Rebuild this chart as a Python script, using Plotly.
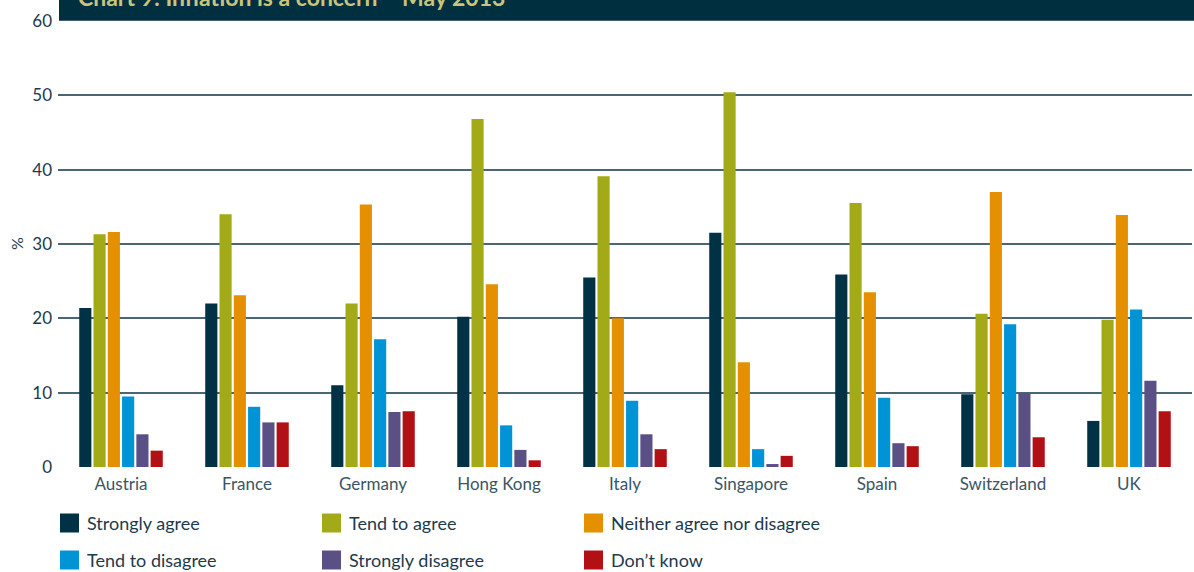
import plotly.graph_objects as go

countries = ["Austria", "France", "Germany", "Hong Kong", "Italy",
             "Singapore", "Spain", "Switzerland", "UK"]

strongly_agree = [21.4, 22.0, 11.0, 20.2, 25.5, 31.5, 25.9, 9.8, 6.2]
tend_to_agree = [31.3, 34.0, 22.0, 46.8, 39.1, 50.4, 35.5, 20.6, 19.8]
neither = [31.6, 23.1, 35.3, 24.6, 20.0, 14.1, 23.5, 37.0, 33.9]
tend_to_disagree = [9.5, 8.1, 17.2, 5.6, 8.9, 2.4, 9.3, 19.2, 21.2]
strongly_disagree = [4.4, 6.0, 7.4, 2.3, 4.4, 0.4, 3.2, 9.9, 11.6]
dont_know = [2.2, 6.0, 7.5, 0.9, 2.4, 1.5, 2.8, 4.0, 7.5]

series_names = ["Strongly agree", "Tend to agree", "Neither agree nor disagree",
                "Tend to disagree", "Strongly disagree", "Don\u2019t know"]
series_values = [strongly_agree, tend_to_agree, neither,
                 tend_to_disagree, strongly_disagree, dont_know]
series_colors = ["#003144", "#a2aa17", "#e59000", "#0093d6", "#5a5086", "#b31015"]

y_ticks = [0, 10, 20, 30, 40, 50, 60]
title_text = "Chart 9: Inflation is a concern \u2013 May 2013"

FONT = "Lato"
TEXT = "#1d3a4b"

W, H = 1194, 572
L, R, T, B = 58, 2, 21, 105
plot_w = W - L - R
plot_h = H - T - B

fig = go.Figure()
for name, vals, col in zip(series_names, series_values, series_colors):
    fig.add_trace(go.Bar(x=countries, y=vals, name=name, marker_color=col,
                         marker_line_width=0, showlegend=False))


def px_x(px):
    return (px - L) / plot_w


def px_y(py):
    return (H - B - py) / plot_h


shapes = []
annotations = []

# header band (title runs off the top edge of the page)
shapes.append(dict(type="rect", xref="paper", yref="paper", layer="above",
                   x0=px_x(59), x1=px_x(W + 2), y0=px_y(20.7), y1=px_y(-2),
                   fillcolor="#00303f", line_width=0))
annotations.append(dict(text=title_text, xref="paper", yref="paper",
                        x=px_x(76), y=px_y(13), xanchor="left", yanchor="bottom",
                        showarrow=False,
                        font=dict(family=FONT, size=23, color="#c9c57d", weight="bold")))

# axis title
annotations.append(dict(text="%", xref="paper", yref="paper", x=px_x(16),
                        y=px_y(244), textangle=-90, showarrow=False,
                        xanchor="center", yanchor="middle",
                        font=dict(family=FONT, size=16, color=TEXT)))

# legend: 3 columns x 2 rows
col_x = [60, 322, 584]
row_y = [523, 560]
for i, (name, col) in enumerate(zip(series_names, series_colors)):
    cx = col_x[i % 3]
    cy = row_y[i // 3]
    shapes.append(dict(type="rect", xref="paper", yref="paper",
                       x0=px_x(cx), x1=px_x(cx + 19),
                       y0=px_y(cy + 9.5), y1=px_y(cy - 9.5),
                       fillcolor=col, line_width=0))
    annotations.append(dict(text=name, xref="paper", yref="paper",
                            x=px_x(cx + 25), y=px_y(cy), xanchor="left",
                            yanchor="middle", showarrow=False,
                            font=dict(family=FONT, size=18, color=TEXT)))

fig.update_layout(
    width=W, height=H,
    margin=dict(l=L, r=R, t=T, b=B),
    paper_bgcolor="white", plot_bgcolor="white",
    barmode="group", bargap=0.32, bargroupgap=0.15,
    font=dict(family=FONT, color=TEXT),
    showlegend=False,
    xaxis=dict(type="category", showgrid=False, zeroline=False, showline=False,
               ticks="", tickfont=dict(family=FONT, size=17, color="#3b5564"),
               ticklabelstandoff=5),
    xaxis2=dict(overlaying="x", anchor="y", range=[-0.5, len(countries) - 0.5],
                tickvals=[i + 0.5 for i in range(len(countries) - 1)],
                ticks="inside", ticklen=9, tickwidth=1.5, tickcolor="#3d5866",
                showticklabels=False, showgrid=False, zeroline=False,
                showline=False),
    yaxis=dict(range=[0, 60], tickvals=y_ticks, showgrid=True,
               gridcolor="#4a6573", gridwidth=1.6, zeroline=False,
               showline=False, ticks="",
               tickfont=dict(family=FONT, size=17, color=TEXT),
               ticklabelstandoff=5),
    shapes=shapes, annotations=annotations,
)

fig.write_html("out.html")
